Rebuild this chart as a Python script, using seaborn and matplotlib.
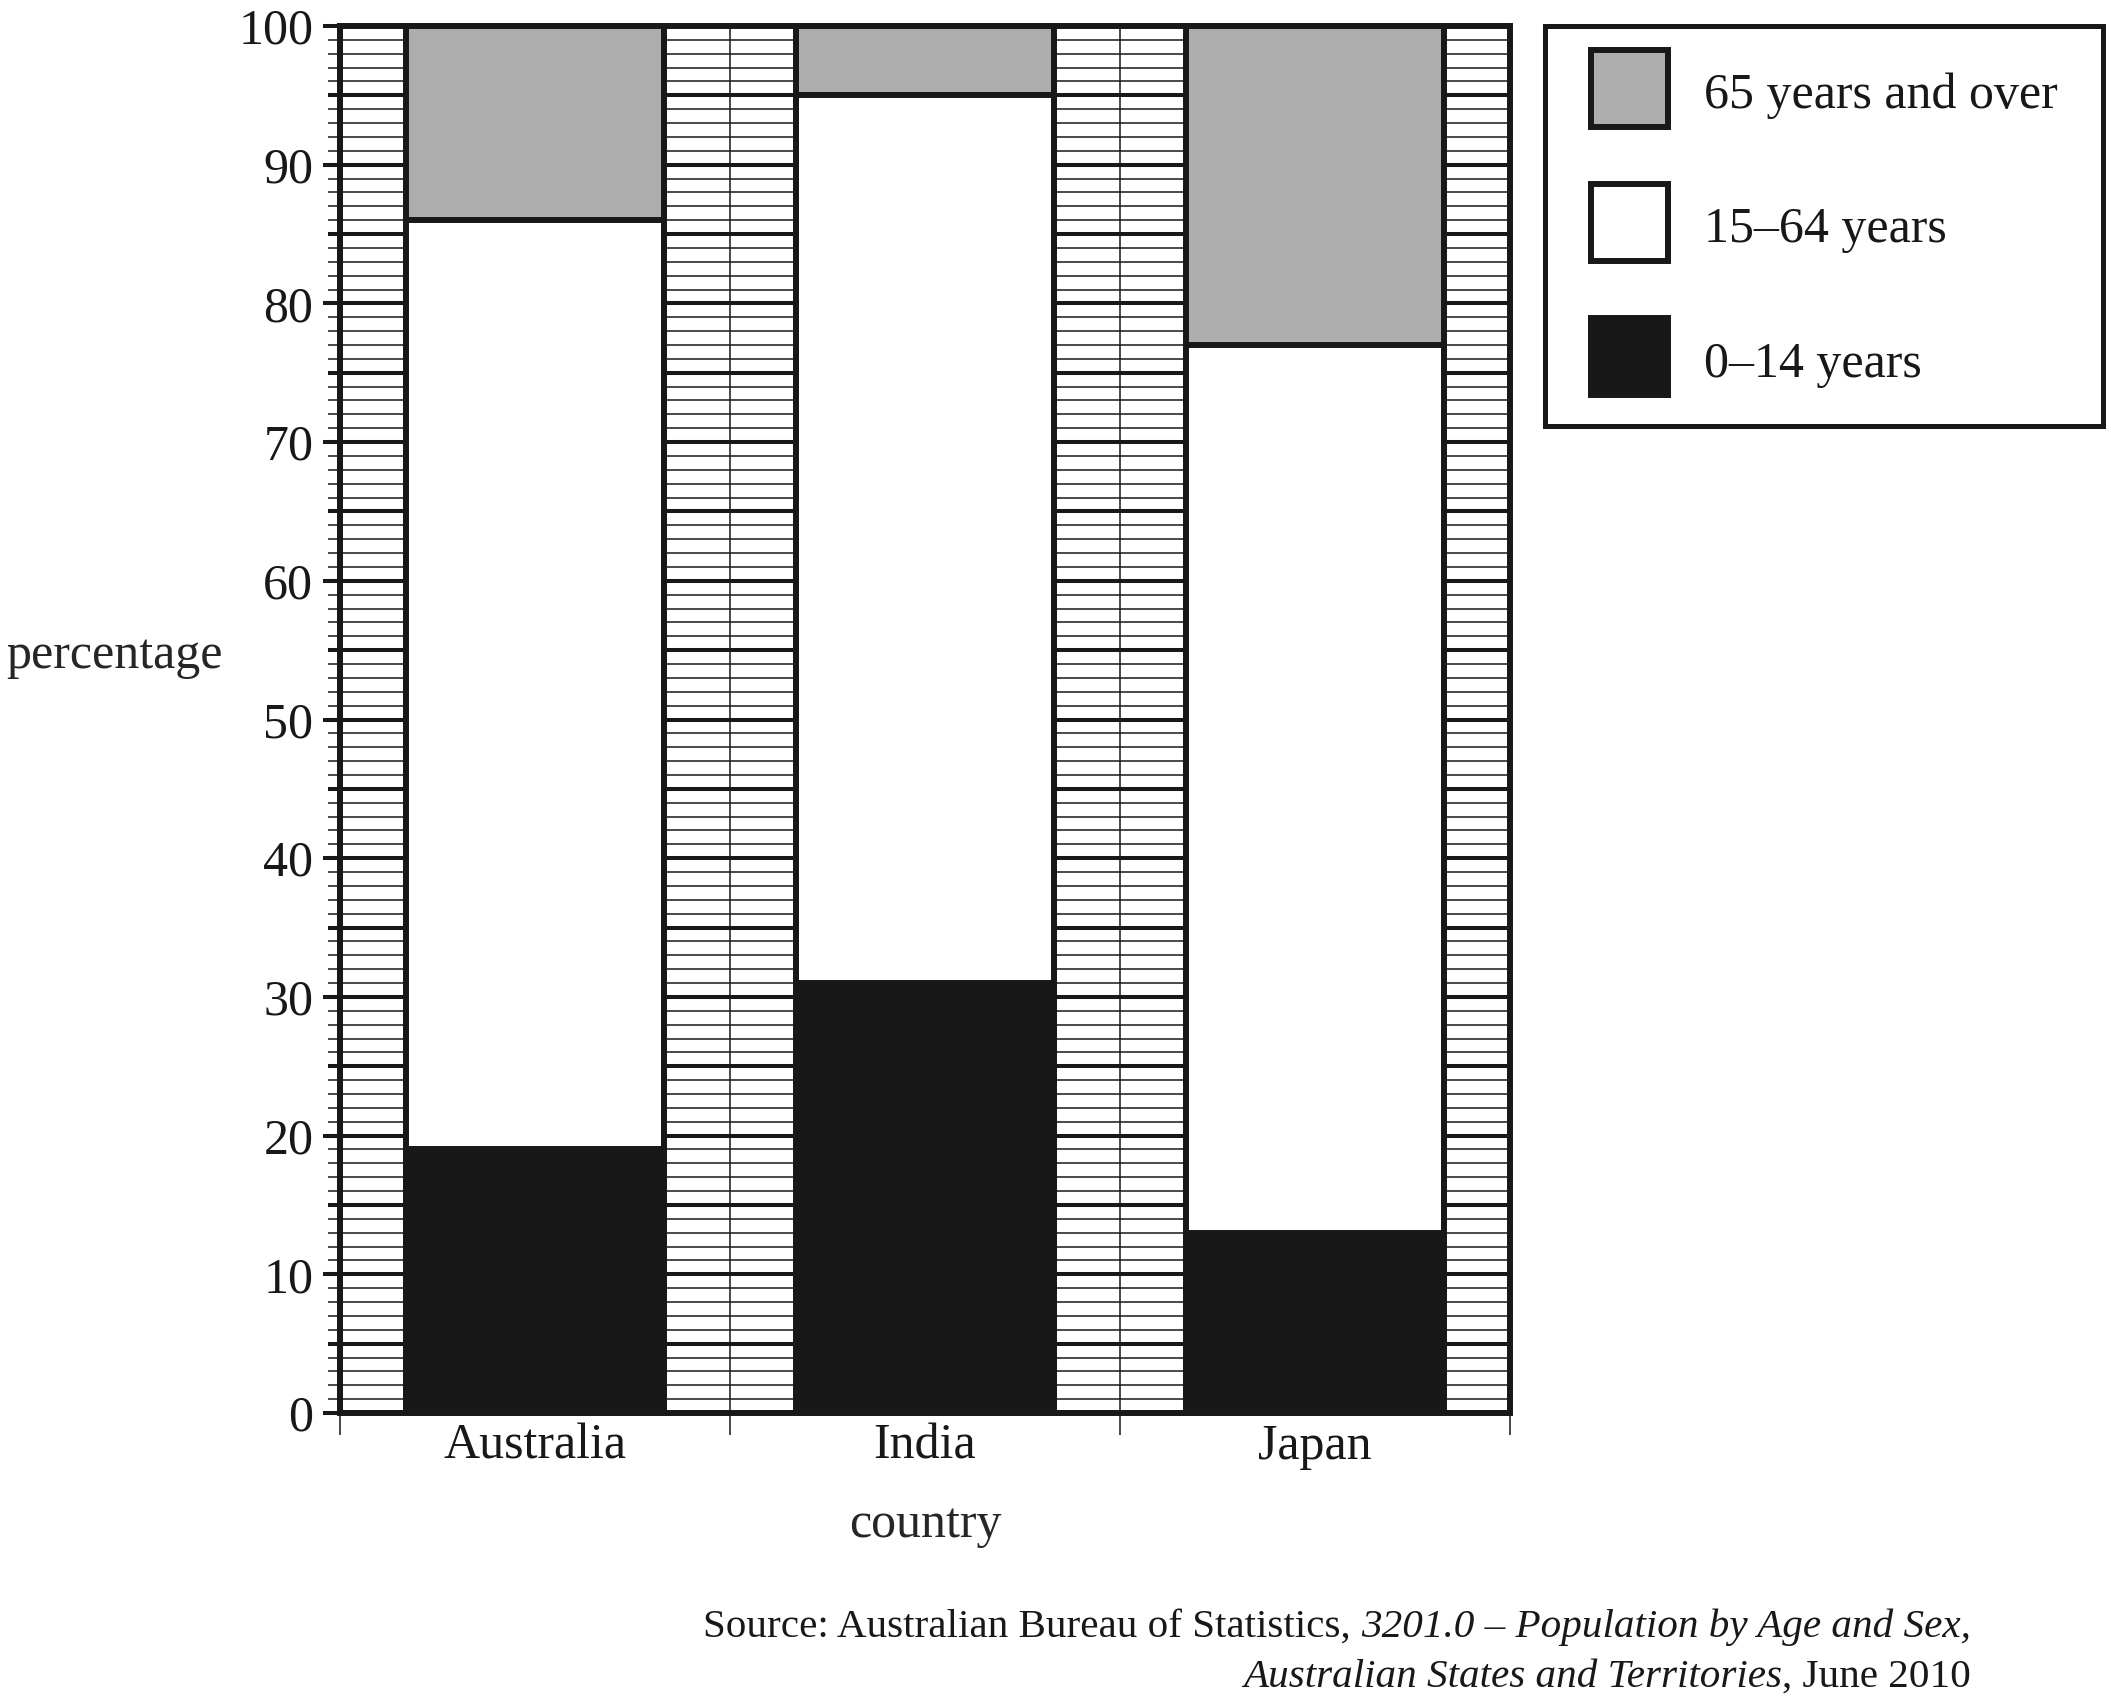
import numpy as np
import pandas as pd
import seaborn as sns
import matplotlib.pyplot as plt
from matplotlib.patches import Patch, Rectangle
from matplotlib.legend_handler import HandlerPatch

countries = ["Australia", "India", "Japan"]
age_0_14 = [19, 31, 13]
age_15_64 = [67, 64, 64]
age_65_plus = [14, 5, 23]
series_labels = ["65 years and over", "15\u201364 years", "0\u201314 years"]
y_ticks = list(range(0, 101, 10))

df = pd.DataFrame({
    "country": countries,
    "young": age_0_14,
    "working": age_15_64,
    "old": age_65_plus,
})
df["upto_working"] = df["young"] + df["working"]
df["total"] = df["upto_working"] + df["old"]

dark = "#181818"
gray = "#adadad"
bar_lw = 4.3

sns.set_style("white")
plt.rcParams["font.family"] = ["Liberation Serif", "DejaVu Serif"]
plt.rcParams["text.color"] = dark

W, H = 2111, 1698
fig = plt.figure(figsize=(W / 100, H / 100), dpi=100)
ax = fig.add_axes([340 / W, 1 - 1413 / H, 1170 / W, 1387 / H])

# grid: thin every 1, thick every 5
thin = [v for v in range(1, 100) if v % 5]
thick = list(range(5, 100, 5))
ax.hlines(thin, 0, 1, transform=ax.get_yaxis_transform(), lw=1.1, color=dark, zorder=0.5)
ax.hlines(thick, -0.0103, 1, transform=ax.get_yaxis_transform(), lw=2.9, color=dark,
          zorder=0.5, clip_on=False)
ax.vlines([0.5, 1.5], 0, 100, lw=1.1, color=dark, zorder=0.5)

# stacked bars, drawn from the top segment down
for col, fc in [("total", gray), ("upto_working", "white"), ("young", dark)]:
    sns.barplot(data=df, x="country", y=col, color=fc, edgecolor=dark, linewidth=bar_lw,
                width=0.66, saturation=1, errorbar=None, ax=ax, zorder=2)

ax.set_xlim(-0.5, 2.5)
ax.set_ylim(0, 100)
ax.set_yticks(y_ticks)
ax.set_yticks(range(0, 101), minor=True)
ax.set_xticks([0, 1, 2])
ax.set_xticklabels(countries)
ax.set_xticks([-0.5, 0.5, 1.5, 2.5], minor=True)

ax.tick_params(axis="y", which="major", length=12.2, width=2.9, direction="out",
               labelsize=36, pad=7, color=dark, labelcolor=dark, left=True)
ax.tick_params(axis="y", which="minor", length=8.6, width=1.1, direction="out",
               color=dark, left=True)
ax.tick_params(axis="x", which="major", length=0, pad=7.5, labelsize=36, labelcolor=dark)
ax.tick_params(axis="x", which="minor", length=15.8, width=1.1, direction="out",
               color=dark, bottom=True)

for s in ax.spines.values():
    s.set_visible(True)
    s.set_linewidth(bar_lw)
    s.set_color(dark)
    s.set_zorder(3)

ax.set_ylabel("percentage", rotation=0, fontsize=36, ha="right", va="baseline")
ax.yaxis.set_label_coords(-0.1, 0.537)
ax.set_xlabel("country", fontsize=36, va="baseline")
ax.xaxis.set_label_coords(0.5, -0.0894)


def legend_square(legend, orig_handle, xdescent, ydescent, width, height, fontsize):
    # square key, inset from the left and sitting a little low like the original
    inset = 0.22 * fontsize
    drop = 0.08 * fontsize
    return Rectangle((-xdescent + inset, -ydescent - drop), width - inset, height + ydescent)


handles = [
    Patch(facecolor=gray, edgecolor=dark, linewidth=bar_lw),
    Patch(facecolor="white", edgecolor=dark, linewidth=bar_lw),
    Patch(facecolor=dark, edgecolor=dark, linewidth=bar_lw),
]
leg = ax.legend(handles, series_labels, loc="upper left",
                bbox_to_anchor=(1545 / W, 1 - 26 / H, (2103 - 1545) / W, 0),
                bbox_transform=fig.transFigure, mode="expand", borderaxespad=0,
                frameon=True, fancybox=False, framealpha=1, edgecolor=dark,
                fontsize=36, handlelength=1.76, handleheight=1.54,
                handletextpad=0.72, labelspacing=1.44, borderpad=0.69,
                handler_map={Patch: HandlerPatch(patch_func=legend_square)})
leg.get_frame().set_linewidth(3.6)

# source note with mixed italic
renderer = fig.canvas.get_renderer()
xr = 1971 / W
y1 = 1 - 1637 / H
y2 = 1 - 1687 / H
fs = 29.6
t = fig.text(xr, y1, "3201.0 \u2013 Population by Age and Sex,", ha="right", va="baseline",
             fontsize=fs, style="italic")
bb = t.get_window_extent(renderer)
fig.text((bb.x0 - 10) / W, y1, "Source: Australian Bureau of Statistics,", ha="right",
         va="baseline", fontsize=fs)
t = fig.text(xr, y2, ", June 2010", ha="right", va="baseline", fontsize=fs)
bb = t.get_window_extent(renderer)
fig.text(bb.x0 / W, y2, "Australian States and Territories", ha="right", va="baseline",
         fontsize=fs, style="italic")

fig.savefig("out.png", dpi=100)
